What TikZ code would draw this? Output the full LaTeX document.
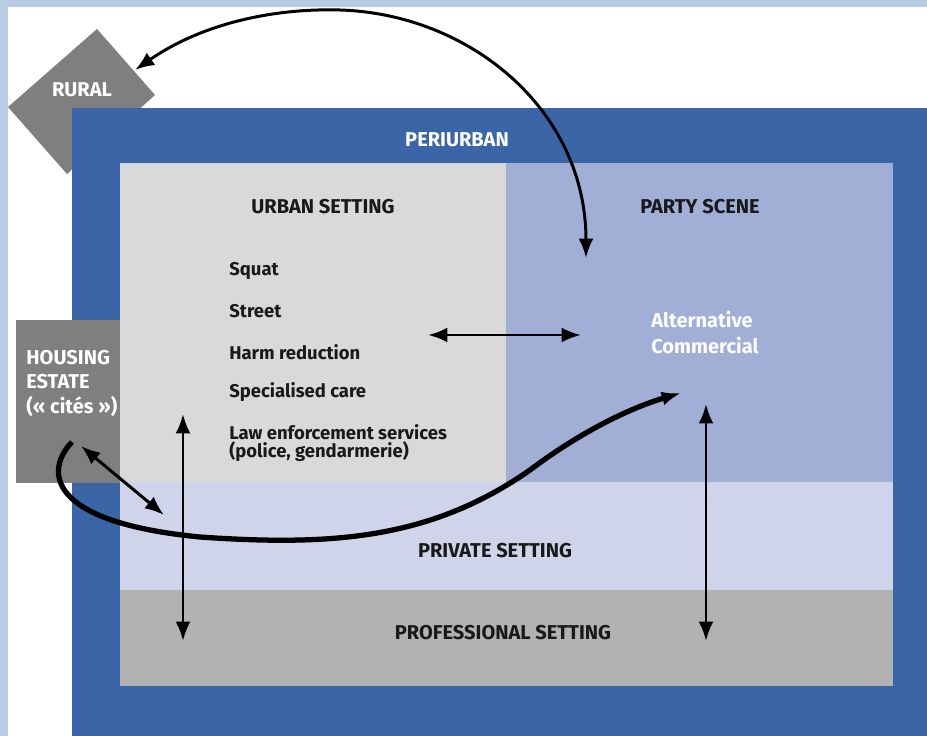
\documentclass[tikz,border=0pt]{standalone}
\usepackage{fontspec}
\setmainfont{Fira Sans}
\usetikzlibrary{arrows.meta}

\definecolor{frameblue}{HTML}{B8CCE4}
\definecolor{periblue}{HTML}{3A66A8}
\definecolor{urbangray}{HTML}{D9D9D9}
\definecolor{partyblue}{HTML}{A1AED6}
\definecolor{privateblue}{HTML}{CFD4EA}
\definecolor{profgray}{HTML}{B2B2B2}
\definecolor{estategray}{HTML}{7F7F7F}

\tikzset{
  lbl/.style={font=\bfseries\fontsize{11.4}{13}\selectfont, text=black!90, inner sep=0pt},
  wlbl/.style={lbl, text=white},
  item/.style={lbl, font=\bfseries\fontsize{10.5}{12}\selectfont, anchor=west},
  link/.style={line width=1.7pt, {Latex[length=11pt,width=8.5pt]}-{Latex[length=11pt,width=8.5pt]}},
}

\begin{document}
\begin{tikzpicture}[x=0.02cm, y=-0.02cm]
  % frame
  \fill[frameblue] (0, 0) rectangle (927, 736);
  \fill[white] (8, 7) rectangle (927, 736);

  % rural diamond, under the periurban block
  \fill[estategray] (97, 29) -- (155, 95) -- (67, 174) -- (8, 107) -- cycle;
  \node[wlbl] (rural) at (82, 90) {RURAL};

  % settings
  \fill[periblue] (72, 108) rectangle (927, 736);
  \fill[urbangray] (120, 163) rectangle (506, 482);
  \fill[partyblue] (506, 163) rectangle (893, 482);
  \fill[privateblue] (120, 482) rectangle (893, 590);
  \fill[profgray] (120, 590) rectangle (893, 686);
  \fill[estategray] (16, 320) rectangle (120, 483);

  \node[wlbl] (periurban) at (457, 140) {PERIURBAN};
  \node[lbl] (urban) at (323, 207) {URBAN SETTING};
  \node[lbl] (party) at (700, 207) {PARTY SCENE};
  \node[lbl] (private) at (495, 551) {PRIVATE SETTING};
  \node[lbl] (professional) at (503, 633) {PROFESSIONAL SETTING};

  \foreach \t/\y [count=\i] in {Squat/271, Street/311, Harm reduction/352,
      Specialised care/392, Law enforcement services/432, {(police, gendarmerie)}/452} {
    \node[item] (item\i) at (229, \y) {\t};
  }

  \node[wlbl, anchor=west] (alt) at (651, 320) {Alternative};
  \node[wlbl, anchor=west] (com) at (651, 346) {Commercial};

  \node[wlbl, anchor=west] (estate1) at (26, 358) {HOUSING};
  \node[wlbl, anchor=west] (estate2) at (26, 382) {ESTATE};
  \node[wlbl, anchor=west] (estate3) at (26, 406) {(« cités »)};

  % arrow ends
  \coordinate (ruralend) at (135, 70);
  \coordinate (partyend) at (586, 258);
  \coordinate (urbanr) at (428, 335);
  \coordinate (partyl) at (581, 335);
  \coordinate (urbantop) at (183, 414);
  \coordinate (urbanbot) at (183, 641);
  \coordinate (partytop) at (706, 404);
  \coordinate (partybot) at (706, 641);
  \coordinate (estatein) at (81, 446);
  \coordinate (privatein) at (164, 515);
  \coordinate (estatestart) at (72, 442);
  \coordinate (partyin) at (681, 393);

  % links
  \draw[link] (ruralend) .. controls (200, 25) and (270, 8) .. (340, 10)
    .. controls (470, 14) and (586, 110) .. (partyend);
  \draw[link] (urbanr) -- (partyl);
  \draw[link] (urbantop) -- (urbanbot);
  \draw[link] (partytop) -- (partybot);
  \draw[link] (estatein) -- (privatein);
  \draw[line width=3pt, -{Latex[length=11pt,width=8pt]}] (estatestart)
    .. controls (45, 470) and (45, 522) .. (200, 537)
    .. controls (330, 546) and (430, 540) .. (530, 470)
    .. controls (590, 425) and (640, 405) .. (partyin);
\end{tikzpicture}
\end{document}
